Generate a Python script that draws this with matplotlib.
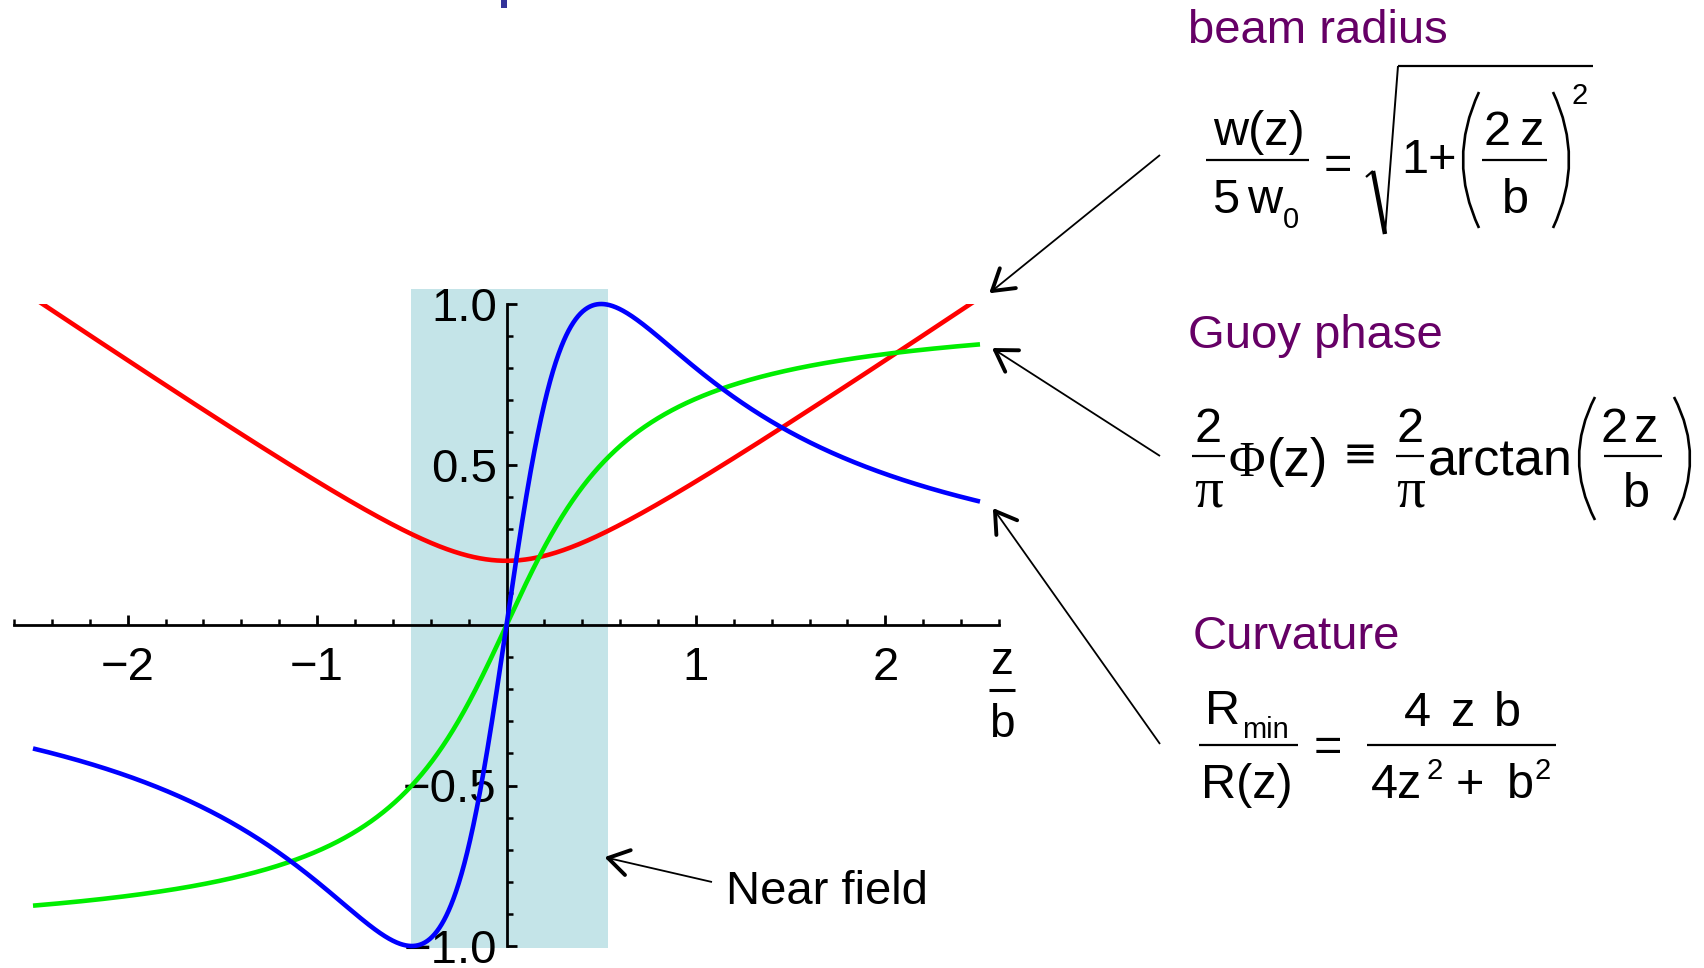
import numpy as np
import matplotlib
matplotlib.use("Agg")
import matplotlib.pyplot as plt
from matplotlib.patches import Rectangle, PathPatch
from matplotlib.path import Path
from matplotlib.lines import Line2D

# ---- parameters of the Gaussian beam plot ----
b = 1.0                          # confocal parameter (z is measured in units of b)
z_span = [-2.5, 2.5]             # range of z/b over which the curves are drawn
near_field = [-0.505, 0.535]     # shaded near-field band (z/b)
near_field_height = [-1.007, 1.047]
x_axis_span = [-2.6, 2.6]
y_axis_span = [-1.0, 1.0]
x_major = [-2, -1, 1, 2]
x_labels = ["\u22122", "\u22121", "1", "2"]
y_major = [-1.0, -0.5, 0.5, 1.0]
y_labels = ["\u22121.0", "\u22120.5", "0.5", "1.0"]
x_minor_step = 0.2
y_minor_step = 0.1

W, H = 1704, 968
FONT = "Liberation Sans"
SERIF = "Liberation Serif"
PURPLE = "#660066"

plt.rcParams["font.family"] = [FONT, "DejaVu Sans"]

fig = plt.figure(figsize=(W / 100, H / 100), dpi=100)
ax = fig.add_axes([0, 0, 1, 1])

# axis origin and scale in pixels
ox, oy = 506.5, 625.0
ux, uy = 189.4, 321.0
ax.set_xlim(-ox / ux, (W - ox) / ux)
ax.set_ylim(-(H - oy) / uy, oy / uy)
ax.patch.set_visible(False)


def fx(px):
    return px / W


def fy(py):
    return 1 - py / H


# near-field band
ax.add_patch(Rectangle((near_field[0], near_field_height[0]),
                       near_field[1] - near_field[0],
                       near_field_height[1] - near_field_height[0],
                       facecolor="#c4e4e8", edgecolor="none", zorder=0))

# curves
z = np.linspace(z_span[0], z_span[1], 2001)
radius = np.sqrt(1 + (2 * z / b) ** 2) / 5
gouy = 2 / np.pi * np.arctan(2 * z / b)
curvature = 4 * z * b / (4 * z ** 2 + b ** 2)

clip = Rectangle((x_axis_span[0] - 1, y_axis_span[0]), 10, y_axis_span[1] - y_axis_span[0],
                 transform=ax.transData, visible=False)
ax.add_patch(clip)
lw = 3.3
l_red, = ax.plot(z, radius, color="#ff0000", lw=lw, zorder=3, solid_capstyle="butt")
l_red.set_clip_path(clip)
ax.plot(z, gouy, color="#00ee00", lw=lw, zorder=3, solid_capstyle="butt")
ax.plot(z, curvature, color="#0000ff", lw=lw, zorder=3, solid_capstyle="butt")

# axes through the origin
for side in ("top", "right"):
    ax.spines[side].set_visible(False)
ax.spines["left"].set_position(("data", 0))
ax.spines["bottom"].set_position(("data", 0))
ax.spines["left"].set_bounds(*y_axis_span)
ax.spines["bottom"].set_bounds(*x_axis_span)
for s in ("left", "bottom"):
    ax.spines[s].set_linewidth(2.0)
    ax.spines[s].set_zorder(2)

ax.set_xticks(x_major)
ax.set_xticklabels(x_labels)
ax.set_yticks(y_major)
ax.set_yticklabels(y_labels)
x_minor = [v for v in np.round(np.arange(x_axis_span[0], x_axis_span[1] + 1e-9, x_minor_step), 2)
           if abs(v) > 1e-9 and v not in x_major]
y_minor = [v for v in np.round(np.arange(y_axis_span[0], y_axis_span[1] + 1e-9, y_minor_step), 2)
           if abs(v) > 1e-9 and v not in y_major]
ax.set_xticks(x_minor, minor=True)
ax.set_yticks(y_minor, minor=True)
ax.tick_params(axis="both", which="major", direction="in", length=7, width=2.0,
               labelsize=34, colors="black")
ax.tick_params(axis="both", which="minor", direction="in", length=4, width=1.8)
ax.tick_params(axis="x", which="major", pad=15)
ax.tick_params(axis="y", which="major", pad=7)
for t in ax.get_xticklabels() + ax.get_yticklabels():
    t.set_fontfamily(FONT)


# ---- helpers for typesetting in pixel coordinates ----
def T(x, y, s, size=35, ha="left", family=FONT, color="black"):
    fig.text(fx(x), fy(y), s, fontsize=size, ha=ha, va="baseline",
             family=[family, "DejaVu Sans"], color=color)


def seg(x0, y0, x1, y1, lw=1.6, cap="butt"):
    fig.add_artist(Line2D([fx(x0), fx(x1)], [fy(y0), fy(y1)], color="black",
                          lw=lw, solid_capstyle=cap))


def paren(x0, x1, y0, y1, left=True, lw=1.9):
    # quadratic arc bulging left for "(" and right for ")"
    ym = (y0 + y1) / 2
    if left:
        verts = [(x1, y0), (2 * x0 - x1, ym), (x1, y1)]
    else:
        verts = [(x0, y0), (2 * x1 - x0, ym), (x0, y1)]
    verts = [(fx(a), fy(c)) for a, c in verts]
    p = Path(verts, [Path.MOVETO, Path.CURVE3, Path.CURVE3])
    fig.add_artist(PathPatch(p, facecolor="none", edgecolor="black", lw=lw,
                             transform=fig.transFigure))


# z/b axis label
T(1002, 674, "z", size=33, ha="center")
seg(989, 690, 1015, 690, lw=2.2)
T(1002, 737, "b", size=33, ha="center")

# clipped fragment of the slide heading at the top edge
fig.add_artist(Rectangle((fx(501), fy(7.5)), 6 / W, 7.5 / H, transform=fig.transFigure,
                         facecolor="#333399", edgecolor="none"))

# section headings
T(1188, 43, "beam radius", size=34, color=PURPLE)
T(1188, 348, "Guoy phase", size=34, color=PURPLE)
T(1193, 649, "Curvature", size=34, color=PURPLE)
T(726, 904, "Near field", size=34)

# ---- beam radius: w(z)/(5 w0) = sqrt(1 + (2z/b)^2) ----
T(1259, 145, "w(z)", ha="center")
seg(1206, 160, 1309, 160)
T(1212, 213, "5")
T(1247, 213, "w")
T(1283, 228, "0", size=21)
T(1338, 179, "=", ha="center")
seg(1366, 177, 1373, 171, lw=1.6)
seg(1373, 171, 1385, 234, lw=3.2)
seg(1385, 234, 1398, 66, lw=1.4)
seg(1398, 66, 1593, 66, lw=1.6)
T(1401, 173, "1+")
paren(1463, 1479, 92, 228, left=True)
T(1497, 145, "2", ha="center")
T(1532, 145, "z", ha="center")
seg(1482, 160, 1547, 160)
T(1515, 213, "b", ha="center")
paren(1553, 1569, 92, 228, left=False)
T(1580, 104, "2", size=21, ha="center")

# ---- Gouy phase: (2/pi) Phi(z) = (2/pi) arctan(2z/b) ----
T(1208, 442, "2", ha="center")
seg(1192, 456, 1225, 456)
T(1209, 507, "\u03c0", size=41, ha="center", family=SERIF)
T(1247, 476, "\u03a6", size=36, ha="center", family=SERIF)
T(1267, 476, "(z)", size=38)
T(1360, 467, "\u2261", size=30, ha="center", family="DejaVu Sans")
T(1410, 442, "2", ha="center")
seg(1396, 456, 1424, 456)
T(1411, 507, "\u03c0", size=41, ha="center", family=SERIF)
T(1428, 476, "arctan", size=37.5)
paren(1579, 1595, 397, 520, left=True)
T(1614, 442, "2", ha="center")
T(1646, 442, "z", ha="center")
seg(1604, 456, 1662, 456)
T(1636, 507, "b", ha="center")
paren(1674, 1690, 397, 520, left=False)

# ---- curvature: R_min/R(z) = 4zb/(4z^2 + b^2) ----
T(1205, 724, "R")
T(1242, 738, "min", size=21)
seg(1199, 745, 1298, 745)
T(1201, 798, "R(z)")
T(1328, 761, "=", ha="center")
T(1404, 726, "4")
T(1463, 726, "z", ha="center")
T(1494, 726, "b")
seg(1367, 745, 1556, 745)
T(1371, 798, "4z")
T(1427, 779, "2", size=21)
T(1470, 798, "+", ha="center")
T(1507, 798, "b")
T(1535, 779, "2", size=21)


# arrows: thin shaft with a bold open head
def arrow(tail, head, arm=24, half_angle=32):
    tx, ty = tail
    hx, hy = head
    seg(tx, ty, hx, hy, lw=1.3)
    ang = np.arctan2(ty - hy, tx - hx)
    for s in (-1, 1):
        a = ang + s * np.radians(half_angle)
        seg(hx, hy, hx + arm * np.cos(a), hy + arm * np.sin(a), lw=2.8, cap="round")


arrow((1160, 155), (992, 291))
arrow((1160, 456), (995, 350))
arrow((1160, 744), (995, 511))
arrow((712, 882), (608, 858))

fig.savefig("out.png", dpi=100)
